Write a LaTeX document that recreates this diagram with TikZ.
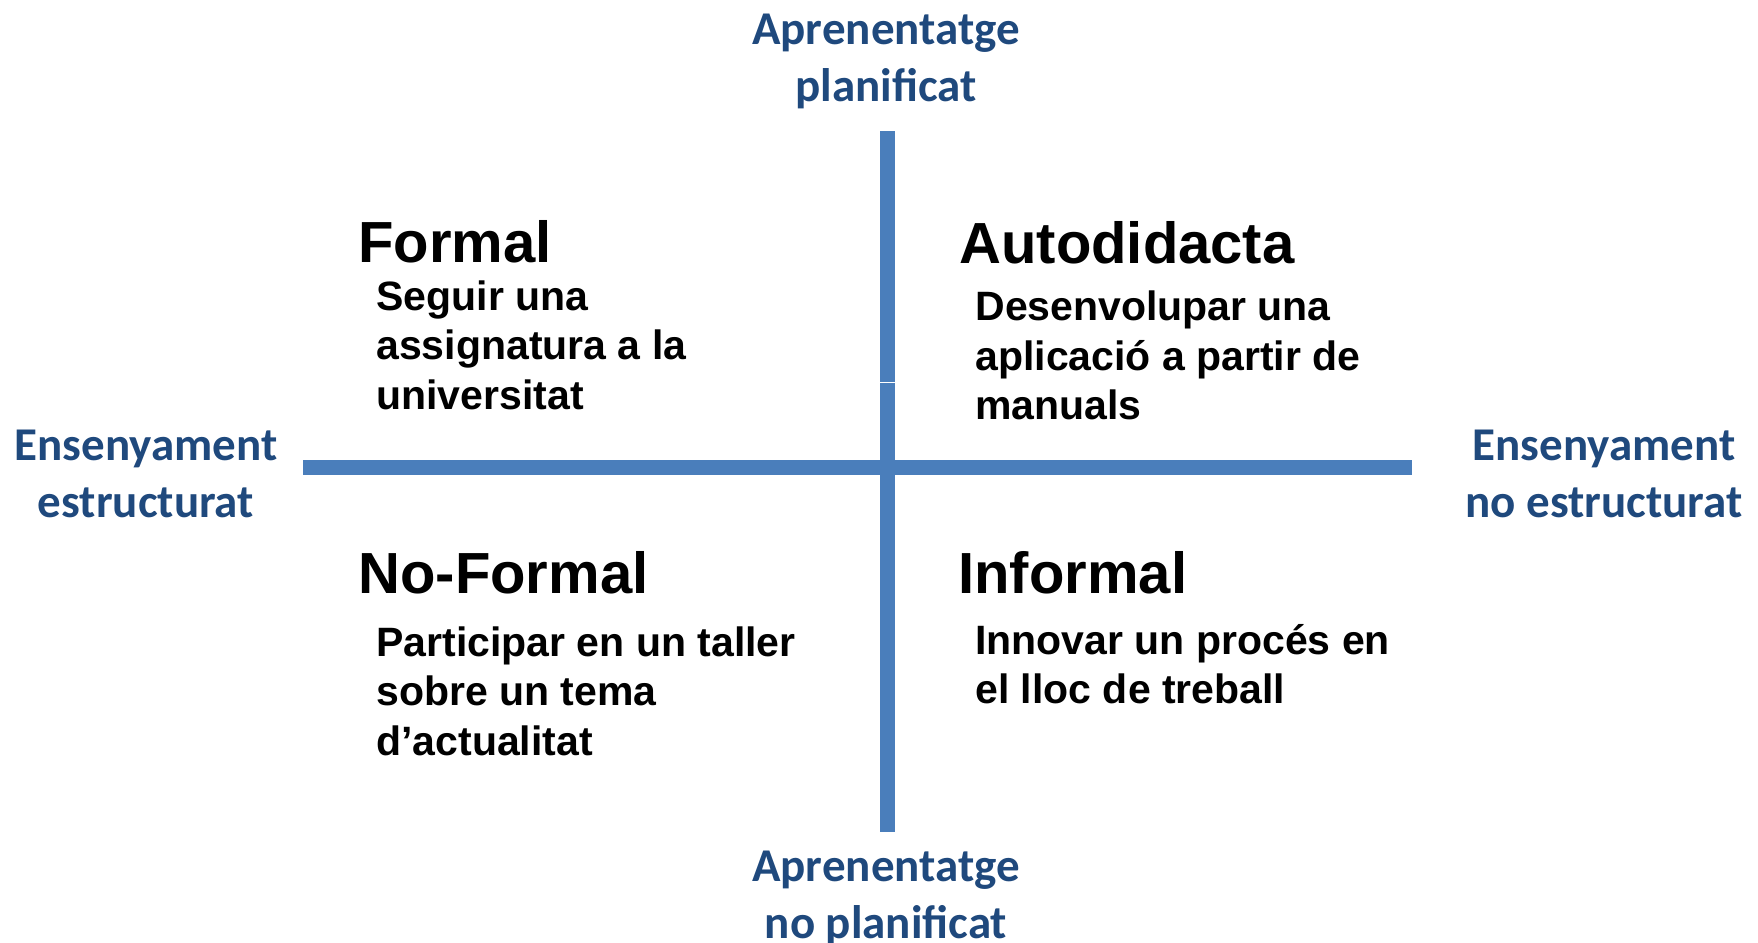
\documentclass[tikz,border=0pt]{standalone}
\usepackage{fontspec}
\setmainfont{Liberation Sans}
\newfontfamily\axisfont{Carlito}
\usetikzlibrary{positioning}
\definecolor{barblue}{HTML}{4A7EBB}
\definecolor{textblue}{HTML}{1F497D}
\tikzset{
    %Define style for the two axes
    axisbar/.style={
           draw=barblue,
           line width=7.5pt,
           line cap=butt},
    %Define style for the labels at the ends of the axes
    pole/.style={
           text=textblue,
           align=center,
           inner sep=0pt,
           anchor=base,
           font=\axisfont\bfseries\fontsize{23.5}{28.5}\selectfont},
    %Define style for the quadrant titles
    quadrant/.style={
           anchor=base west,
           inner sep=0pt,
           font=\bfseries\fontsize{29}{35}\selectfont},
    %Define style for the examples (anchored on the last line)
    example/.style={
           anchor=base west,
           align=left,
           inner sep=0pt,
           font=\bfseries\fontsize{20.5}{24.75}\selectfont}
}

\begin{document}
\begin{tikzpicture}[x=0.5pt,y=-0.5pt]
\useasboundingbox (0,0) rectangle (1758,943);
% axes
\coordinate (top) at (887.5,131);
\coordinate (cut) at (887.5,381.5);
\coordinate (bottom) at (887.5,831.5);
\coordinate (left) at (303,467.5);
\coordinate (right) at (1412,467.5);
\draw[axisbar] (top) -- (cut);
\draw[axisbar] ([yshift=-0.5pt]cut) -- (bottom);
\draw[axisbar] (left) -- (right);

% labels at the ends of the axes
\node[pole] (planned) at (886,101) {Aprenentatge\\planificat};
\node[pole] (unplanned) at (886,938) {Aprenentatge\\no planificat};
\node[pole] (structured) at (146,517) {Ensenyament\\estructurat};
\node[pole] (unstructured) at (1604,517) {Ensenyament\\no estructurat};

% quadrants
\node[quadrant] (formal) at (358,262) {Formal};
\node[example] (formalex) at (376,409) {Seguir una\\assignatura a la\\universitat};
\node[quadrant] (selftaught) at (959,263) {Autodidacta};
\node[example] (selftaughtex) at (975,419.5) {Desenvolupar una\\aplicació a partir de\\manuals};
\node[quadrant] (nonformal) at (358,593) {No-Formal};
\node[example] (nonformalex) at (376,755) {Participar en un taller\\sobre un tema\\d’actualitat};
\node[quadrant] (informal) at (958,593) {Informal};
\node[example] (informalex) at (975,703.5) {Innovar un procés en\\el lloc de treball};
\end{tikzpicture}
\end{document}
